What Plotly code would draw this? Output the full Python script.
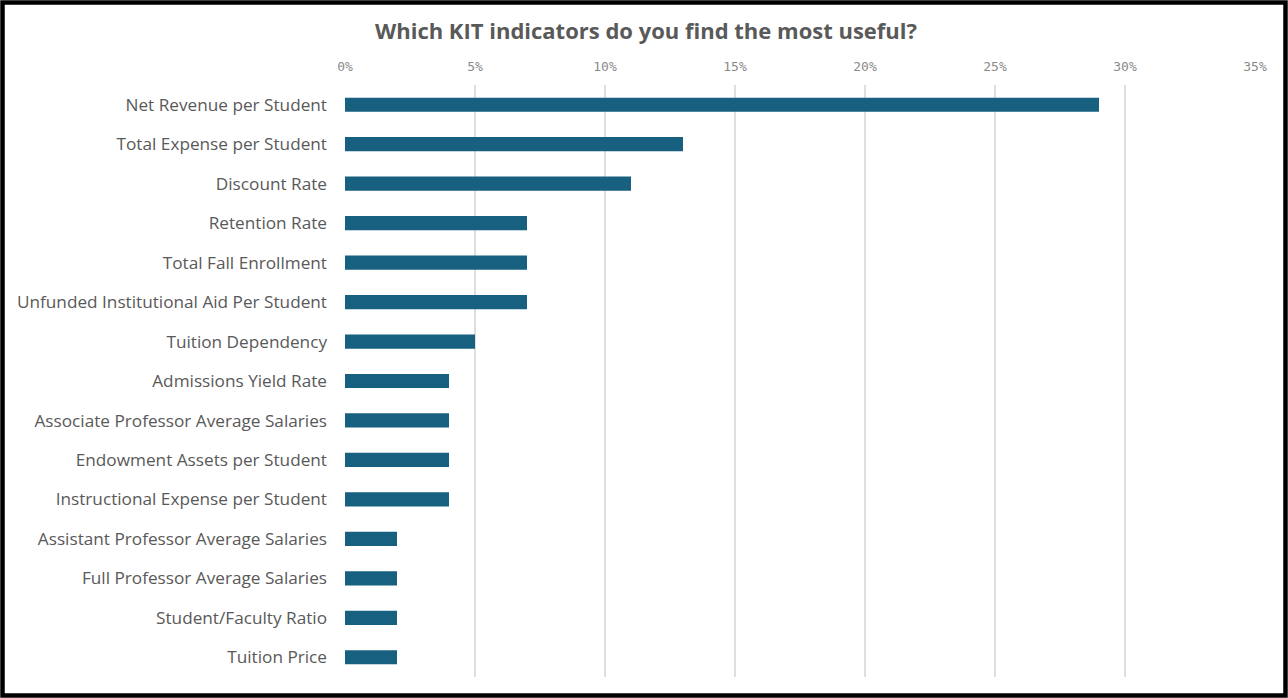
import plotly.graph_objects as go

categories = [
    "Net Revenue per Student",
    "Total Expense per Student",
    "Discount Rate",
    "Retention Rate",
    "Total Fall Enrollment",
    "Unfunded Institutional Aid Per Student",
    "Tuition Dependency",
    "Admissions Yield Rate",
    "Associate Professor Average Salaries",
    "Endowment Assets per Student",
    "Instructional Expense per Student",
    "Assistant Professor Average Salaries",
    "Full Professor Average Salaries",
    "Student/Faculty Ratio",
    "Tuition Price",
]
values = [29, 13, 11, 7, 7, 7, 5, 4, 4, 4, 4, 2, 2, 2, 2]
tick_vals = [0, 5, 10, 15, 20, 25, 30, 35]
tick_text = ["0%", "5%", "10%", "15%", "20%", "25%", "30%", "35%"]
title_text = "Which KIT indicators do you find the most useful?"

W, H = 1288, 698
ML, MR, MT, MB = 345, 33, 85, 21
pw = W - ML - MR
ph = H - MT - MB

fig = go.Figure(
    go.Bar(
        x=values,
        y=categories,
        orientation="h",
        width=0.36,
        marker=dict(color="#176080", line=dict(width=0)),
    )
)

fig.update_layout(
    width=W,
    height=H,
    margin=dict(l=ML, r=MR, t=MT, b=MB),
    paper_bgcolor="white",
    plot_bgcolor="white",
    showlegend=False,
    title=dict(
        text="<b>" + title_text + "</b>",
        x=(646 - ML) / pw,
        xref="paper",
        xanchor="center",
        y=1 - 31 / H,
        yanchor="middle",
        font=dict(family="Open Sans", size=22, color="#595959"),
    ),
    xaxis=dict(
        side="top",
        range=[0, 35],
        tickvals=tick_vals,
        ticktext=tick_text,
        showgrid=True,
        gridcolor="#dedede",
        gridwidth=2,
        zeroline=False,
        showline=False,
        ticks="",
        ticklabelstandoff=10,
        tickfont=dict(family="DejaVu Sans Mono", size=13, color="#8a8a8a"),
        fixedrange=True,
    ),
    yaxis=dict(
        categoryorder="array",
        categoryarray=categories[::-1],
        autorange=False,
        range=[-0.5, len(categories) - 0.5],
        showgrid=False,
        zeroline=False,
        showline=False,
        ticks="",
        ticklabelstandoff=17,
        tickfont=dict(family="Open Sans", size=17.2, color="#595959"),
        fixedrange=True,
    ),
    bargap=0.6,
)

# outer black frame
fig.add_shape(
    type="rect",
    xref="paper",
    yref="paper",
    x0=(2.5 - ML) / pw,
    x1=(W - 2.5 - ML) / pw,
    y0=(H - MB - (H - 2.5)) / ph,
    y1=(H - MB - 2.5) / ph,
    line=dict(color="black", width=4.5),
    fillcolor="rgba(0,0,0,0)",
    layer="above",
)

fig.write_html(
    "out.html",
    config={"displayModeBar": False},
    post_script="document.body.style.margin='0';document.body.style.overflow='hidden';",
)
